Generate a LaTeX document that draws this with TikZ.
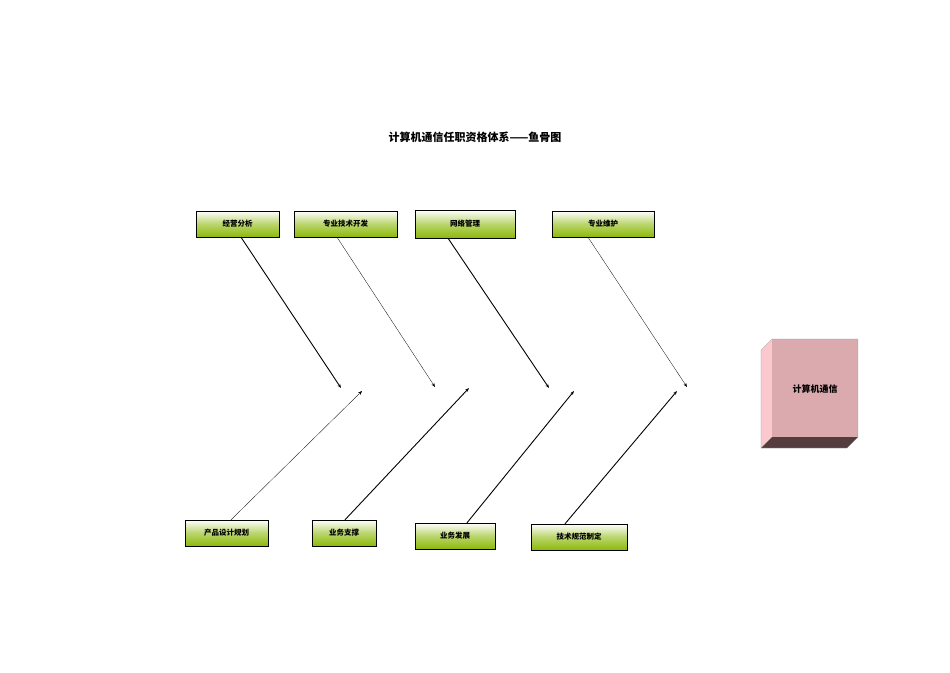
\documentclass[tikz,border=0pt]{standalone}
\usepackage{fontspec}
\setmainfont{Noto Sans CJK SC}
\usetikzlibrary{arrows.meta}
\definecolor{boneGreen}{RGB}{140,185,10}
\definecolor{cubeFace}{RGB}{218,170,175}
\definecolor{cubeSide}{RGB}{250,200,205}
\definecolor{cubeBase}{RGB}{85,60,62}
\tikzset{
  bone/.style={draw=black, thin, top color=white, bottom color=boneGreen,
    middle color=white!40!boneGreen, inner sep=0pt, font=\fontsize{7.5}{8}\selectfont\bfseries},
  thinArrow/.style={-{Stealth[length=4pt,width=3pt]}, line width=0.3pt},
  thickArrow/.style={-{Stealth[length=4pt,width=3pt]}, line width=0.9pt}
}
\begin{document}
\begin{tikzpicture}[x=1pt,y=-1pt]
\useasboundingbox (0,0) rectangle (950,672);
\node[font=\fontsize{11}{12}\selectfont\bfseries] (title) at (475,137) {计算机通信任职资格体系——鱼骨图};
% upper causes
\node[bone, minimum width=83pt, minimum height=26pt] (jyfx) at (237.5,224) {经营分析};
\node[bone, minimum width=103pt, minimum height=26pt] (zyjs) at (345.5,224) {专业技术开发};
\node[bone, minimum width=100pt, minimum height=28pt] (wlgl) at (465,224) {网络管理};
\node[bone, minimum width=102pt, minimum height=26pt] (zywh) at (603,224) {专业维护};
% lower causes
\node[bone, minimum width=83pt, minimum height=26pt] (cpsj) at (226.5,533) {产品设计规划};
\node[bone, minimum width=64pt, minimum height=26pt] (ywzc) at (344,533) {业务支撑};
\node[bone, minimum width=80pt, minimum height=26pt] (ywfz) at (455,536) {业务发展};
\node[bone, minimum width=96pt, minimum height=26pt] (jsgf) at (579,537) {技术规范制定};
% arrow tips
\coordinate (t1) at (341,388);
\coordinate (t2) at (435,387);
\coordinate (t3) at (549,388);
\coordinate (t4) at (687,387);
\coordinate (b1) at (362,391);
\coordinate (b2) at (469,388);
\coordinate (b3) at (574,391);
\coordinate (b4) at (677,391);
\draw[thickArrow] (jyfx.south -| 241,0) -- (t1);
\draw[thinArrow] (zyjs.south -| 337,0) -- (t2);
\draw[thickArrow] (wlgl.south -| 448,0) -- (t3);
\draw[thinArrow] (zywh.south -| 588,0) -- (t4);
\draw[thinArrow] (cpsj.north -| 231,0) -- (b1);
\draw[thickArrow] (ywzc.north -| 345,0) -- (b2);
\draw[thickArrow] (ywfz.north -| 467,0) -- (b3);
\draw[thickArrow] (jsgf.north -| 565,0) -- (b4);
% head
\fill[cubeSide] (761,350) -- (772,339) -- (772,437) -- (761,448) -- cycle;
\fill[cubeBase] (761,448) -- (772,437) -- (858,437) -- (847,448) -- cycle;
\fill[cubeFace] (772,339) rectangle (858,437);
\draw[black!40, line width=0.3pt] (761,350) -- (772,339) -- (858,339) -- (858,437) -- (847,448) -- (761,448) -- cycle;
\node[font=\fontsize{9}{10}\selectfont\bfseries] (head) at (815,389) {计算机通信};
\end{tikzpicture}
\end{document}
